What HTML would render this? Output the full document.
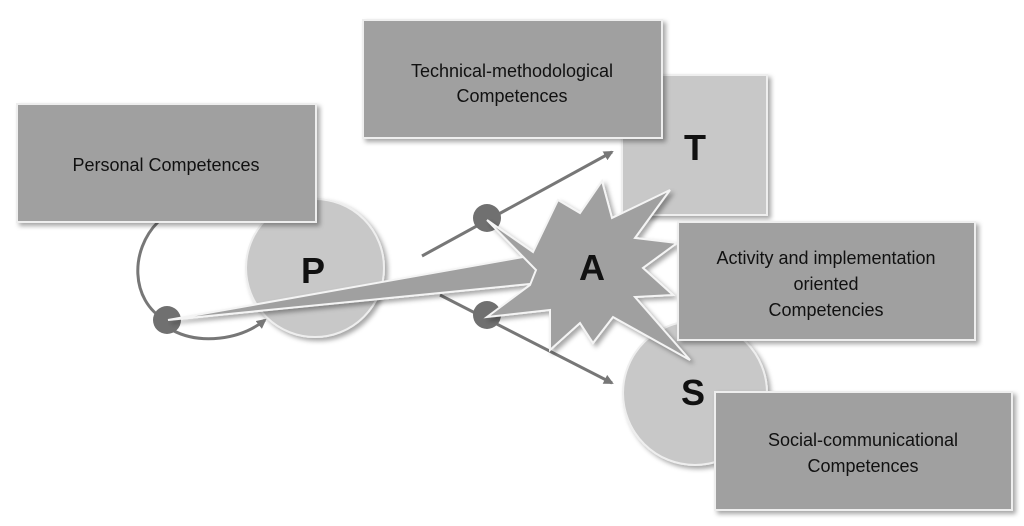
<!DOCTYPE html>
<html><head><meta charset="utf-8"><style>
html,body{margin:0;padding:0;background:#fff;}
svg{display:block;}
text{font-family:"Liberation Sans",sans-serif;fill:#111;}
</style></head><body>
<svg width="1024" height="526" viewBox="0 0 1024 526" xmlns="http://www.w3.org/2000/svg">
<defs>
<filter id="sh" x="-10%" y="-10%" width="130%" height="130%"><feDropShadow dx="3" dy="3" stdDeviation="2.5" flood-color="#000" flood-opacity="0.35"/></filter>
<marker id="ar" markerWidth="10" markerHeight="10" refX="8" refY="5" orient="auto" markerUnits="userSpaceOnUse"><path d="M0,0 L10,5 L0,10 z" fill="#777"/></marker>
</defs>
<rect x="622" y="75" width="145" height="140" fill="#c8c8c8" stroke="#eee" stroke-width="2" filter="url(#sh)"/>
<text x="695" y="160" font-size="36" font-weight="bold" text-anchor="middle">T</text>
<rect x="363" y="20" width="299" height="118" fill="#a0a0a0" stroke="#eee" stroke-width="2" filter="url(#sh)"/>
<text x="512" y="77" font-size="18" text-anchor="middle">Technical-methodological</text>
<text x="512" y="102" font-size="18" text-anchor="middle">Competences</text>
<circle cx="695" cy="393" r="72" fill="#c8c8c8" stroke="#eee" stroke-width="2" filter="url(#sh)"/>
<text x="693" y="405" font-size="36" font-weight="bold" text-anchor="middle">S</text>
<circle cx="315" cy="268" r="69" fill="#c8c8c8" stroke="#eee" stroke-width="2" filter="url(#sh)"/>
<text x="313" y="283" font-size="36" font-weight="bold" text-anchor="middle">P</text>
<path d="M158,222 C130,250 130,300 165,320" fill="none" stroke="#777" stroke-width="3"/>
<path d="M172,330 C200,345 240,340 265,320" fill="none" stroke="#777" stroke-width="3" marker-end="url(#ar)"/>
<rect x="17" y="104" width="299" height="118" fill="#a0a0a0" stroke="#eee" stroke-width="2" filter="url(#sh)"/>
<text x="166" y="171" font-size="18" text-anchor="middle">Personal Competences</text>
<line x1="422" y1="256" x2="612" y2="152" stroke="#777" stroke-width="3" marker-end="url(#ar)"/>
<line x1="440" y1="295" x2="612" y2="383" stroke="#777" stroke-width="3" marker-end="url(#ar)"/>
<circle cx="487" cy="218" r="14" fill="#707070"/>
<circle cx="487" cy="315" r="14" fill="#707070"/>
<circle cx="167" cy="320" r="14" fill="#707070"/>
<g filter="url(#sh)">
<polygon points="168,320 540,254 540,283" fill="#a0a0a0" stroke="#f4f4f4" stroke-width="2"/>
<polygon points="487,220 533,252 558,200 580,213 602,181 612,218 670,190 635,238 677,243 643,268 673,295 635,297 690,360 613,317 593,343 580,323 550,350 550,310 487,317 530,285 536,270" fill="#a0a0a0" stroke="#f4f4f4" stroke-width="2"/>
</g>
<text x="592" y="280" font-size="36" font-weight="bold" text-anchor="middle">A</text>
<rect x="678" y="222" width="297" height="118" fill="#a0a0a0" stroke="#eee" stroke-width="2" filter="url(#sh)"/>
<text x="826" y="264" font-size="18" text-anchor="middle">Activity and implementation</text>
<text x="826" y="290" font-size="18" text-anchor="middle">oriented</text>
<text x="826" y="316" font-size="18" text-anchor="middle">Competencies</text>
<rect x="715" y="392" width="297" height="118" fill="#a0a0a0" stroke="#eee" stroke-width="2" filter="url(#sh)"/>
<text x="863" y="446" font-size="18" text-anchor="middle">Social-communicational</text>
<text x="863" y="472" font-size="18" text-anchor="middle">Competences</text>
</svg>
</body></html>
